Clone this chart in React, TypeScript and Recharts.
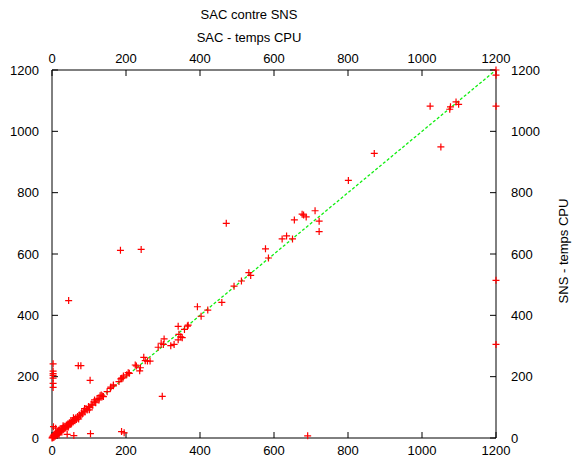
import { ReferenceLine, Scatter, ScatterChart, XAxis, YAxis } from 'recharts'

// temps CPU [SAC, SNS]
const nearOrigin: [number, number][] = [
  [0, 0], [1, 3], [2, 1], [3, 6], [5, 2], [4, 9], [6, 12], [8, 5], [9, 14], [11, 8],
  [12, 16], [14, 11], [15, 20], [17, 14], [18, 24], [20, 17], [21, 26], [23, 20], [25, 29], [26, 23],
  [28, 32], [30, 27], [31, 36], [33, 30], [35, 38], [37, 33], [39, 42], [41, 37], [43, 46], [45, 41],
  [47, 50], [49, 45], [51, 54], [53, 48], [55, 57], [57, 52], [60, 61], [62, 56], [64, 65], [66, 60],
  [69, 70], [71, 66], [74, 75], [77, 72], [80, 82], [82, 78], [86, 88], [89, 85], [92, 95], [95, 91],
  [99, 103], [102, 99], [106, 110], [110, 107], [114, 118], [118, 115], [122, 127], [127, 124],
  [127, 129], [130, 138], [133, 140], [136, 137], [139, 135], [149, 151], [158, 162], [159, 166],
  [166, 170], [166, 173], [4, 37], [10, 32], [19, 26], [30, 40], [44, 36], [58, 66], [72, 62],
  [88, 96], [101, 92], [115, 124],
]

const lowRange: [number, number][] = [
  [181, 184], [186, 193], [188, 195], [192, 196], [193, 202], [202, 206], [206, 213], [209, 211],
  [225, 238], [228, 235], [237, 219], [239, 229], [248, 263], [252, 252], [258, 251], [265, 251],
  [287, 296], [295, 309], [301, 305], [303, 323], [321, 301], [330, 305], [341, 320], [343, 338],
  [348, 330], [352, 327], [341, 364], [358, 354], [366, 365], [368, 368], [393, 428], [403, 397],
  [421, 417], [459, 442],
]

const highRange: [number, number][] = [
  [492, 495], [512, 512], [532, 539], [537, 530], [577, 617], [585, 587], [622, 649], [634, 659],
  [650, 649], [655, 711], [676, 730], [680, 727], [687, 721], [711, 741], [722, 707], [722, 673],
  [801, 840], [871, 928], [1022, 1082], [1051, 949], [1075, 1072], [1077, 1080], [1092, 1096],
  [1099, 1088], [1200, 1200], [1200, 1183], [1200, 1082], [1200, 514], [1200, 305],
]

const leftEdge: [number, number][] = [
  [3, 242], [3, 218], [3, 210], [3, 204], [3, 195], [3, 178], [3, 165],
]

const outliers: [number, number][] = [
  [185, 612], [241, 615], [471, 700], [45, 448], [71, 236], [78, 236], [103, 188], [298, 136],
  [691, 7], [19, 10], [41, 12], [59, 8], [104, 14], [188, 21], [195, 17],
]

const ticks = [0, 200, 400, 600, 800, 1000, 1200]

const points = [...nearOrigin, ...lowRange, ...highRange, ...leftEdge, ...outliers].map(
  ([sac, sns]) => ({ sac, sns })
)

const font = 'Liberation Sans'
const tickStyle = { fontSize: 13, fill: '#000', fontFamily: font }

const Plus = (props: any) => {
  const { cx, cy } = props
  if (cx == null || cy == null) return null
  return (
    <path
      d={`M${cx - 3.5},${cy}h7M${cx},${cy - 3.5}v7`}
      stroke="#ff0000"
      strokeWidth={1.2}
      fill="none"
    />
  )
}

const Nothing = () => null

const textStyle: React.CSSProperties = {
  position: 'absolute',
  fontFamily: font,
  fontSize: 13,
  color: '#000',
  whiteSpace: 'nowrap',
  lineHeight: '14px',
}

export default function App() {
  return (
    <div style={{ position: 'absolute', left: 0, top: 0, width: 575, height: 457, background: '#fff' }}>
      <div style={{ ...textStyle, left: 249, top: 8, transform: 'translateX(-50%)' }}>SAC contre SNS</div>
      <div style={{ ...textStyle, left: 249, top: 31, transform: 'translateX(-50%)' }}>SAC - temps CPU</div>
      <div
        style={{
          ...textStyle,
          left: 564,
          top: 251,
          transform: 'translate(-50%, -50%) rotate(-90deg)',
        }}
      >
        SNS - temps CPU
      </div>
      <ScatterChart width={575} height={457} margin={{ top: 50, right: 0, bottom: 0, left: 0 }}>
        <XAxis
          xAxisId="b"
          dataKey="sac"
          type="number"
          domain={[0, 1200]}
          ticks={ticks}
          interval={0}
          orientation="bottom"
          height={19}
          tickSize={-6}
          tickMargin={14}
          tick={tickStyle}
          stroke="#000"
        />
        <XAxis
          xAxisId="t"
          dataKey="sac"
          type="number"
          domain={[0, 1200]}
          ticks={ticks}
          interval={0}
          orientation="top"
          height={20}
          tickSize={-6}
          tickMargin={13.5}
          tick={tickStyle}
          stroke="#000"
        />
        <YAxis
          yAxisId="l"
          dataKey="sns"
          type="number"
          domain={[0, 1200]}
          ticks={ticks}
          interval={0}
          orientation="left"
          width={52}
          tickSize={-6}
          tickMargin={19}
          tick={tickStyle}
          stroke="#000"
        />
        <YAxis
          yAxisId="r"
          dataKey="sns"
          type="number"
          domain={[0, 1200]}
          ticks={ticks}
          interval={0}
          orientation="right"
          width={79}
          tickSize={-6}
          tickMargin={21}
          tick={tickStyle}
          stroke="#000"
        />
        <Scatter
          data={points}
          xAxisId="t"
          yAxisId="r"
          shape={Nothing}
          isAnimationActive={false}
        />
        <Scatter
          data={points}
          xAxisId="b"
          yAxisId="l"
          shape={Plus}
          isAnimationActive={false}
        />
        <ReferenceLine
          xAxisId="b"
          yAxisId="l"
          segment={[{ x: 0, y: 0 }, { x: 1200, y: 1200 }]}
          stroke="#11ee11"
          strokeDasharray="3 2"
          strokeWidth={1.3}
        />
      </ScatterChart>
    </div>
  )
}
